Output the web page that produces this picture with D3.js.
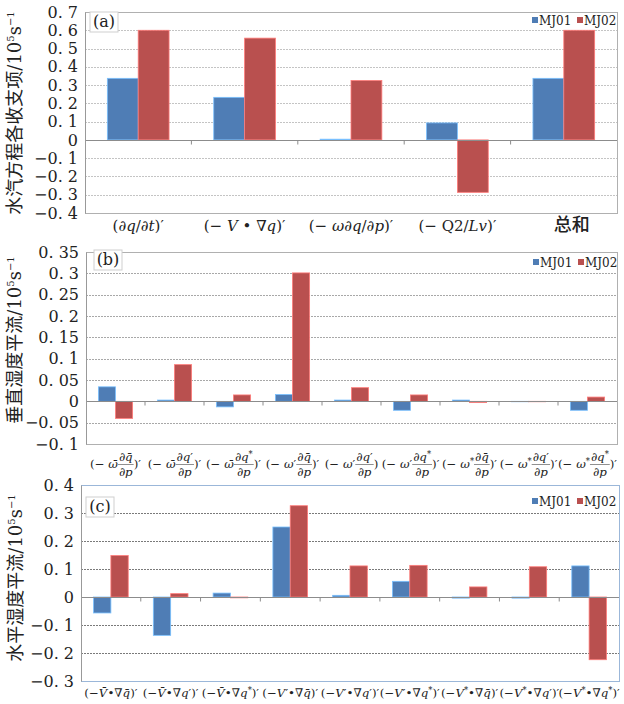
<!DOCTYPE html>
<html>
<head>
<meta charset="utf-8">
<script src="https://cdn.jsdelivr.net/npm/d3@7"></script>
<style>
body { margin: 0; background: #fff; }
svg { display: block; }
text { font-family: "DejaVu Serif", "Liberation Serif", serif; fill: #222; }
.cjk { font-family: "Noto Sans CJK SC", sans-serif; }
</style>
</head>
<body>
<script>
var seriesNames = ['MJ01', 'MJ02'];
var seriesColors = ['#4f7db5', '#b9504f'];
var serifFont = '"DejaVu Serif", "Liberation Serif", serif';

// panel (a)
var catsA = ['(∂q/∂t)′', '(− V • ∇q)′', '(− ω∂q/∂p)′', '(− Q2/Lv)′', '总和'];
var mj01A = [0.337, 0.233, 0.004, 0.093, 0.337];
var mj02A = [0.600, 0.557, 0.325, -0.287, 0.600];
var ticksA = [-0.4, -0.3, -0.2, -0.1, 0, 0.1, 0.2, 0.3, 0.4, 0.5, 0.6, 0.7];

// panel (b): -(omega) * d(q)/dp
var omegaB = ['ω̄', 'ω̄', 'ω̄', 'ω′', 'ω′', 'ω′', 'ω*', 'ω*', 'ω*'];
var qB = ['q̄', 'q′', 'q*', 'q̄', 'q′', 'q*', 'q̄', 'q′', 'q*'];
var mj01B = [0.034, 0.003, -0.013, 0.016, 0.003, -0.021, 0.003, -0.001, -0.021];
var mj02B = [-0.040, 0.086, 0.015, 0.301, 0.032, 0.015, -0.003, -0.001, 0.010];
var ticksB = [-0.1, -0.05, 0, 0.05, 0.1, 0.15, 0.2, 0.25, 0.3, 0.35];

// panel (c): -(V) . grad(q)
var catsC = ['(−V̄•∇q̄)′', '(−V̄•∇q′)′', '(−V̄•∇q*)′', '(−V′•∇q̄)′', '(−V′•∇q′)′',
             '(−V′•∇q*)′', '(−V*•∇q̄)′', '(−V*•∇q′)′', '(−V*•∇q*)′'];
var mj01C = [-0.057, -0.137, 0.014, 0.250, 0.006, 0.056, -0.004, -0.004, 0.111];
var mj02C = [0.148, 0.012, -0.003, 0.326, 0.111, 0.113, 0.036, 0.108, -0.224];
var ticksC = [-0.3, -0.2, -0.1, 0, 0.1, 0.2, 0.3, 0.4];

var svg = d3.select('body').append('svg')
    .attr('width', 624)
    .attr('height', 704);

function fmtTick(v) {
    if (Math.abs(v) < 1e-9) return '0';
    var s = d3.format('.2~f')(Math.abs(v)).replace('.', '. ');
    return (v < 0 ? '−' : '') + s;
}

// write a string, putting letters in italics and '*' as superscript
function richText(sel, str) {
    var italic = /[qtpωvLV]/;
    var runs = [];
    for (var i = 0; i < str.length; i++) {
        var ch = str[i];
        if (/[\u0300-\u036f]/.test(ch) && runs.length) {
            runs[runs.length - 1].s += ch;
            continue;
        }
        if (ch == '*') {
            runs.push({s: ch, it: false, sup: true});
            continue;
        }
        var it = italic.test(ch);
        var last = runs[runs.length - 1];
        if (last && last.it == it && !last.sup) {
            last.s += ch;
        } else {
            runs.push({s: ch, it: it});
        }
    }
    var back = 0;
    runs.forEach(function(r) {
        var t = sel.append('tspan').text(r.s)
            .style('font-style', r.it ? 'italic' : 'normal');
        if (r.sup) {
            t.attr('dy', -4).style('font-size', '0.7em');
            back = 4;
        } else if (back) {
            t.attr('dy', back);
            back = 0;
        }
    });
}

function drawPanel(p) {
    var n = p.mj01.length;
    var g = svg.append('g');
    var x = d3.scaleBand()
        .domain(d3.range(n))
        .range([p.left, p.right])
        .paddingInner(0.42)
        .paddingOuter(0.21);
    var xs = d3.scaleBand().domain([0, 1]).range([0, x.bandwidth()]);
    var y = d3.scaleLinear()
        .domain([p.ticks[0], p.ticks[p.ticks.length - 1]])
        .range([p.bottom, p.top]);

    // grid
    g.selectAll('.grid')
        .data(p.ticks.filter(function(t) { return Math.abs(t) > 1e-9; }))
        .enter().append('line')
        .attr('x1', p.left).attr('x2', p.right)
        .attr('y1', function(d) { return Math.round(y(d)) + 0.5; })
        .attr('y2', function(d) { return Math.round(y(d)) + 0.5; })
        .style('stroke', p.gridColor)
        .style('stroke-dasharray', '2,1');

    // bars
    var series = [p.mj01, p.mj02];
    series.forEach(function(vals, si) {
        g.selectAll('.bar' + si)
            .data(vals)
            .enter().append('rect')
            .attr('x', function(d, i) { return x(i) + xs(si); })
            .attr('width', xs.bandwidth())
            .attr('y', function(d) { return y(Math.max(0, d)); })
            .attr('height', function(d) { return Math.abs(y(d) - y(0)); })
            .style('fill', seriesColors[si])
            .style('stroke', d3.color(seriesColors[si]).brighter(1.2))
            .style('stroke-width', 0.8);
    });

    // zero line and category ticks
    var y0 = Math.round(y(0)) + 0.5;
    g.append('line')
        .attr('x1', p.left).attr('x2', p.right)
        .attr('y1', y0).attr('y2', y0)
        .style('stroke', '#8c8c8c');
    g.selectAll('.ctick')
        .data(d3.range(1, n))
        .enter().append('line')
        .attr('x1', function(i) { return p.left + i * (p.right - p.left) / n; })
        .attr('x2', function(i) { return p.left + i * (p.right - p.left) / n; })
        .attr('y1', y0).attr('y2', y0 + 4)
        .style('stroke', '#8c8c8c');

    // frame
    g.append('rect')
        .attr('x', p.left + 0.5).attr('y', p.top + 0.5)
        .attr('width', p.right - p.left).attr('height', p.bottom - p.top)
        .style('fill', 'none')
        .style('stroke', p.frameColor);

    // y axis
    var yAxis = d3.axisLeft(y).tickValues(p.ticks).tickSize(0).tickPadding(7)
        .tickFormat(fmtTick);
    var ax = g.append('g').attr('transform', 'translate(' + p.left + ',0)').call(yAxis);
    ax.attr('font-family', null);
    ax.select('.domain').style('stroke', '#999');
    ax.selectAll('text')
        .style('font-family', serifFont)
        .style('font-size', '16px')
        .style('fill', '#222');

    // y title
    var title = g.append('text')
        .attr('transform', 'translate(' + p.titleX + ',' + p.titleY + ') rotate(-90)')
        .attr('text-anchor', 'middle')
        .style('font-size', '18px');
    title.append('tspan').attr('class', 'cjk').text(p.title);
    title.append('tspan').text('/10');
    title.append('tspan').attr('dy', -7).style('font-size', '10px').text('5');
    title.append('tspan').attr('dy', 7).text('s');
    title.append('tspan').attr('dy', -7).style('font-size', '10px').text('−1');

    // panel tag
    var tag = g.append('g').attr('transform', 'translate(' + p.tagX + ',' + p.tagY + ')');
    tag.append('rect')
        .attr('width', 28).attr('height', 20)
        .style('fill', '#fff').style('stroke', '#cfcfcf');
    tag.append('text')
        .attr('x', 14).attr('y', 15).attr('text-anchor', 'middle')
        .style('font-size', '16px')
        .text(p.tag);

    // legend
    var lg = g.append('g').attr('transform', 'translate(' + p.legendX + ',' + p.legendY + ')');
    seriesNames.forEach(function(name, si) {
        lg.append('rect')
            .attr('x', si * 45).attr('y', -3)
            .attr('width', 6).attr('height', 6)
            .style('fill', seriesColors[si]);
        lg.append('text')
            .attr('x', si * 45 + 7).attr('y', 5)
            .style('font-size', '12px')
            .text(name);
    });

    p.drawLabels(g, x);
}

drawPanel({
    mj01: mj01A, mj02: mj02A, ticks: ticksA,
    left: 85, right: 617, top: 12, bottom: 213,
    gridColor: '#c4c4c4', frameColor: '#b0b0b0',
    title: '水汽方程各收支项', titleX: 21, titleY: 113,
    tag: '(a)', tagX: 90, tagY: 12,
    legendX: 532, legendY: 20,
    drawLabels: function(g, x) {
        g.selectAll('.xl')
            .data(catsA)
            .enter().append('text')
            .attr('x', function(d, i) { return x(i) + x.bandwidth() / 2; })
            .attr('y', 231)
            .attr('text-anchor', 'middle')
            .style('font-size', '15px')
            .each(function(d) {
                if (d == '总和') {
                    d3.select(this).attr('class', 'cjk')
                        .attr('dx', 8)
                        .style('font-size', '18px').style('font-weight', '500').text(d);
                } else {
                    richText(d3.select(this), d);
                }
            });
    }
});

drawPanel({
    mj01: mj01B, mj02: mj02B, ticks: ticksB,
    left: 86, right: 617, top: 252, bottom: 444,
    gridColor: '#a8a8a8', frameColor: '#b0b0b0',
    title: '垂直湿度平流', titleX: 21, titleY: 340,
    tag: '(b)', tagX: 94, tagY: 250,
    legendX: 533, legendY: 262,
    drawLabels: function(g, x) {
        var fs = 11.8;
        omegaB.forEach(function(om, i) {
            var cx = x(i) + x.bandwidth() / 2;
            var lab = g.append('g');
            var left = lab.append('text').attr('y', 468).style('font-size', fs + 'px');
            left.append('tspan').text('(− ');
            richText(left, om);
            var num = lab.append('text').attr('y', 461).style('font-size', fs + 'px')
                .attr('text-anchor', 'middle');
            richText(num, '∂' + qB[i]);
            var den = lab.append('text').attr('y', 476).style('font-size', fs + 'px')
                .attr('text-anchor', 'middle');
            richText(den, '∂p');
            var right = lab.append('text').attr('y', 468).style('font-size', fs + 'px')
                .text(i == 4 ? ')' : ')′');
            var wl = left.node().getComputedTextLength();
            var wf = Math.max(num.node().getComputedTextLength(), den.node().getComputedTextLength()) + 2;
            var wr = right.node().getComputedTextLength();
            var x0 = cx - (wl + wf + wr) / 2;
            left.attr('x', x0);
            num.attr('x', x0 + wl + wf / 2);
            den.attr('x', x0 + wl + wf / 2);
            lab.append('line')
                .attr('x1', x0 + wl).attr('x2', x0 + wl + wf)
                .attr('y1', 464.5).attr('y2', 464.5)
                .style('stroke', '#444').style('stroke-width', 0.6);
            right.attr('x', x0 + wl + wf);
        });
    }
});

drawPanel({
    mj01: mj01C, mj02: mj02C, ticks: ticksC,
    left: 81, right: 619, top: 485, bottom: 681,
    gridColor: '#7a7a7a', frameColor: '#9bb7d9',
    title: '水平湿度平流', titleX: 22, titleY: 578,
    tag: '(c)', tagX: 86, tagY: 497,
    legendX: 532, legendY: 501,
    drawLabels: function(g, x) {
        g.selectAll('.xl')
            .data(catsC)
            .enter().append('text')
            .attr('x', function(d, i) { return x(i) + x.bandwidth() / 2; })
            .attr('y', 697)
            .attr('text-anchor', 'middle')
            .style('font-size', '11.8px')
            .each(function(d) { richText(d3.select(this), d); });
    }
});
</script>
</body>
</html>
